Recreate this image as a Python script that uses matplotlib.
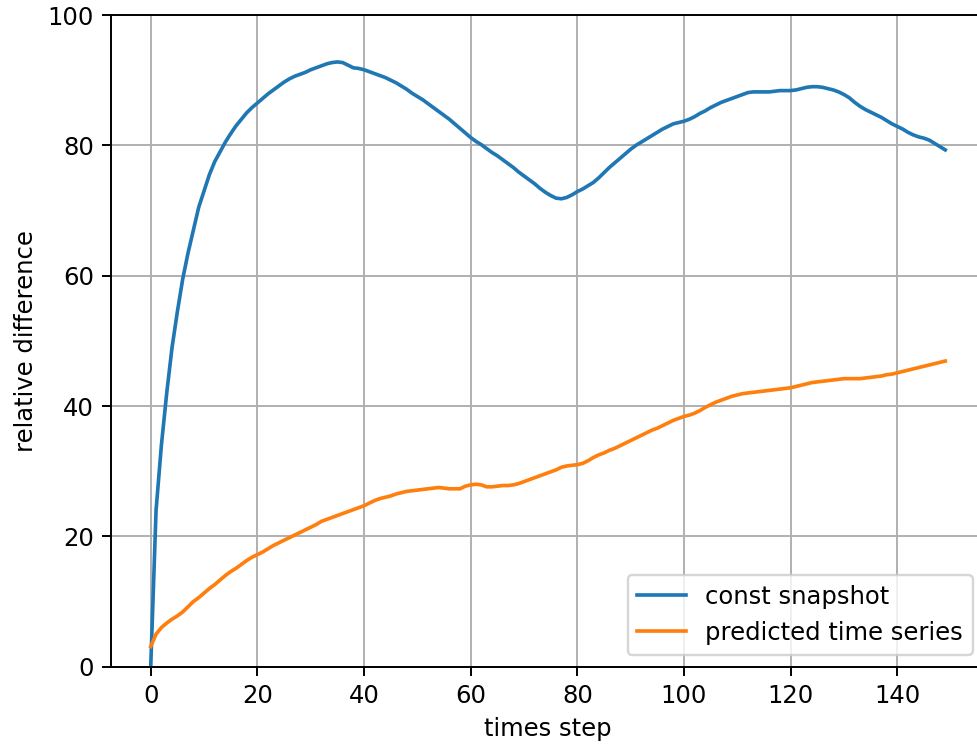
import matplotlib
matplotlib.use("Agg")
import matplotlib.pyplot as plt
import numpy as np

# time steps 0..149
steps = list(range(150))

const_snapshot = [
    0.0, 24.0, 34.0, 42.0, 49.0, 54.5, 59.5, 63.5, 67.0, 70.5,
    73.0, 75.5, 77.5, 79.0, 80.5, 81.8, 83.0, 84.0, 85.0, 85.8,
    86.5, 87.2, 87.9, 88.5, 89.1, 89.7, 90.2, 90.6, 90.9, 91.2,
    91.6, 91.9, 92.2, 92.5, 92.7, 92.8, 92.7, 92.3, 91.9, 91.8,
    91.6, 91.3, 91.0, 90.7, 90.4, 90.0, 89.6, 89.1, 88.6, 88.0,
    87.5, 87.0, 86.4, 85.8, 85.2, 84.6, 84.0, 83.3, 82.6, 81.9,
    81.2, 80.6, 80.1, 79.5, 78.9, 78.4, 77.8, 77.2, 76.6, 75.9,
    75.3, 74.7, 74.1, 73.4, 72.8, 72.3, 71.9, 71.8, 72.0, 72.4,
    72.9, 73.3, 73.8, 74.3, 75.0, 75.8, 76.6, 77.3, 78.0, 78.7,
    79.4, 80.0, 80.5, 81.0, 81.5, 82.0, 82.5, 82.9, 83.3, 83.5,
    83.7, 84.0, 84.4, 84.9, 85.3, 85.8, 86.2, 86.6, 86.9, 87.2,
    87.5, 87.8, 88.1, 88.2, 88.2, 88.2, 88.2, 88.3, 88.4, 88.4,
    88.4, 88.5, 88.7, 88.9, 89.0, 89.0, 88.9, 88.7, 88.5, 88.2,
    87.8, 87.3, 86.6, 86.0, 85.5, 85.1, 84.7, 84.3, 83.8, 83.3,
    82.9, 82.5, 82.0, 81.6, 81.3, 81.1, 80.8, 80.3, 79.8, 79.3,
]

predicted_series = [
    3.1, 5.0, 6.0, 6.7, 7.3, 7.8, 8.4, 9.2, 10.0, 10.6,
    11.3, 12.0, 12.6, 13.3, 14.0, 14.6, 15.1, 15.7, 16.3, 16.8,
    17.2, 17.6, 18.1, 18.6, 19.0, 19.4, 19.8, 20.2, 20.6, 21.0,
    21.4, 21.8, 22.3, 22.6, 22.9, 23.2, 23.5, 23.8, 24.1, 24.4,
    24.7, 25.1, 25.5, 25.8, 26.0, 26.2, 26.5, 26.7, 26.9, 27.0,
    27.1, 27.2, 27.3, 27.4, 27.5, 27.4, 27.3, 27.3, 27.3, 27.7,
    27.9, 28.0, 27.9, 27.6, 27.6, 27.7, 27.8, 27.8, 27.9, 28.1,
    28.4, 28.7, 29.0, 29.3, 29.6, 29.9, 30.2, 30.6, 30.8, 30.9,
    31.0, 31.2, 31.6, 32.1, 32.5, 32.8, 33.2, 33.5, 33.9, 34.3,
    34.7, 35.1, 35.5, 35.9, 36.3, 36.6, 37.0, 37.4, 37.8, 38.1,
    38.4, 38.6, 38.9, 39.3, 39.8, 40.2, 40.6, 40.9, 41.2, 41.5,
    41.7, 41.9, 42.0, 42.1, 42.2, 42.3, 42.4, 42.5, 42.6, 42.7,
    42.8, 43.0, 43.2, 43.4, 43.6, 43.7, 43.8, 43.9, 44.0, 44.1,
    44.2, 44.2, 44.2, 44.2, 44.3, 44.4, 44.5, 44.6, 44.8, 44.9,
    45.1, 45.3, 45.5, 45.7, 45.9, 46.1, 46.3, 46.5, 46.7, 46.9,
]

DPI = 175
fig = plt.figure(figsize=(977 / DPI, 744 / DPI), dpi=DPI)
ax = fig.add_axes([111 / 977, 77.3 / 744, 874 / 977, 651.7 / 744])

ax.plot(steps, const_snapshot, label="const snapshot")
ax.plot(steps, predicted_series, label="predicted time series")

ax.set_ylim(0, 100)
ax.set_xlabel("times step")
ax.set_ylabel("relative difference")
ax.grid(True)
ax.legend(loc="lower right")

fig.savefig("out.png", dpi=DPI)
